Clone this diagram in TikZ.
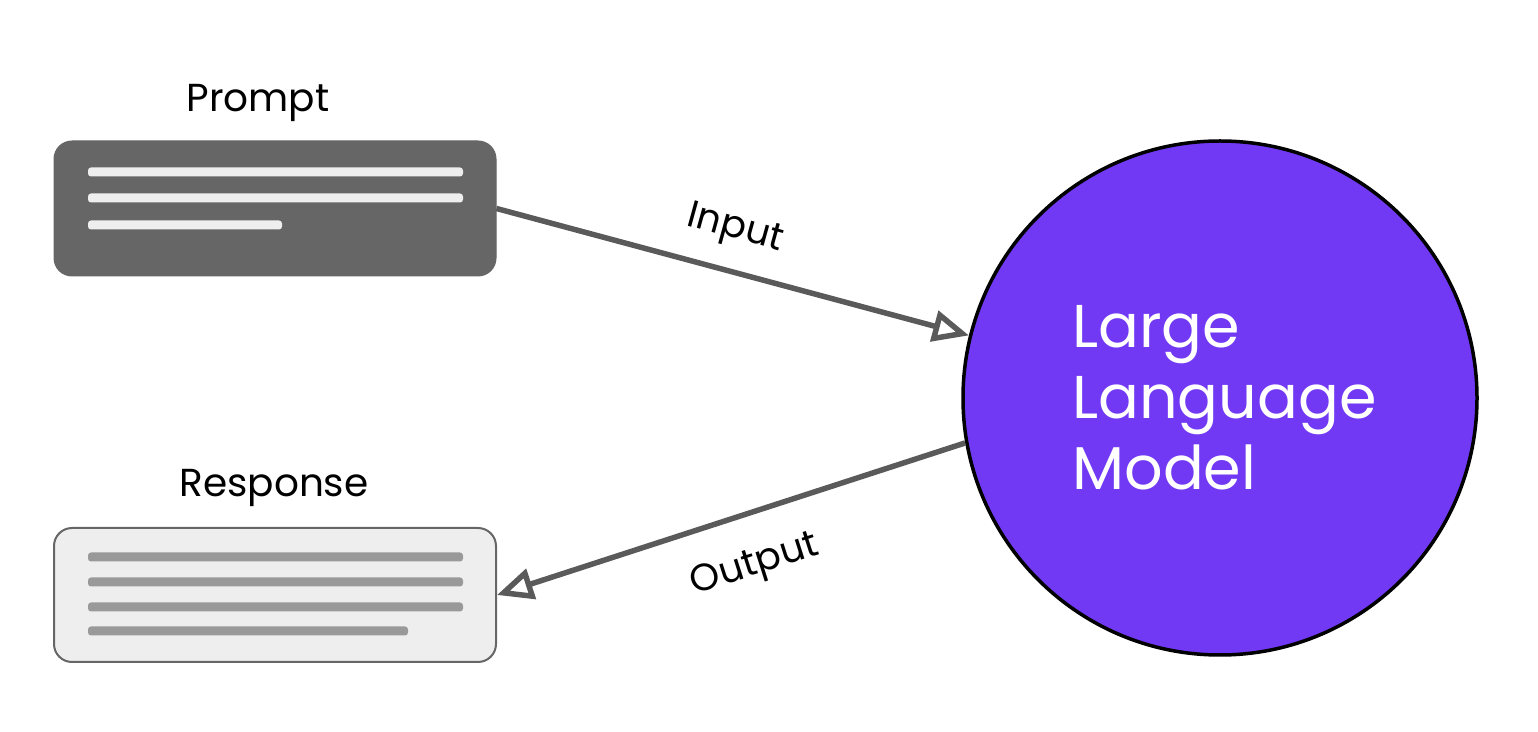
\documentclass[tikz,border=0pt]{standalone}
\usepackage{fontspec}
\setmainfont{Poppins}
\usetikzlibrary{arrows.meta}
\definecolor{boxdark}{HTML}{666666}
\definecolor{barlight}{HTML}{EEEEEE}
\definecolor{bargrey}{HTML}{999999}
\definecolor{arrowgrey}{HTML}{5A5A5A}
\definecolor{llmpurple}{HTML}{7239F5}
\tikzset{
  promptbox/.style={rectangle, rounded corners=9pt, fill=boxdark, draw=boxdark, line width=0.5pt, minimum width=221pt, minimum height=67.5pt, inner sep=0pt},
  responsebox/.style={rectangle, rounded corners=9pt, fill=barlight, draw=boxdark, line width=1pt, minimum width=221pt, minimum height=67pt, inner sep=0pt},
  lightbar/.style={fill=barlight, rounded corners=1.5pt},
  greybar/.style={fill=bargrey, rounded corners=1.5pt},
  llmnode/.style={circle, draw=black, line width=1.75pt, fill=llmpurple, minimum size=257pt, inner sep=0pt},
  flow/.style={draw=arrowgrey, line width=2.75pt, -{Triangle[open, length=18pt, width=15.5pt, line width=2.75pt]}},
  title/.style={font=\fontsize{19.5}{23}\selectfont, text=black, inner sep=0pt},
  flowlabel/.style={font=\fontsize{19}{23}\selectfont, text=black, inner sep=0pt},
}
\begin{document}
\begin{tikzpicture}[x=0.5pt, y=-0.5pt]
\useasboundingbox (0,0) rectangle (1538,732);
% boxes
\node[promptbox] (prompt) at (275,208.5) {};
\fill[lightbar] (88,167.5) rectangle (463,176.5);
\fill[lightbar] (88,193.5) rectangle (463,202.5);
\fill[lightbar] (88,220.5) rectangle (282,229.5);
\node[title, anchor=base] (promptlabel) at (258,112) {Prompt};

\node[responsebox] (response) at (275,595) {};
\fill[greybar] (88,552.5) rectangle (463,561.5);
\fill[greybar] (88,577.5) rectangle (463,586.5);
\fill[greybar] (88,602.5) rectangle (463,611.5);
\fill[greybar] (88,626.5) rectangle (408,635.5);
\node[title, anchor=base] (responselabel) at (274,497) {Response};

% LLM
\node[llmnode] (llm) at (1220,398) {};
\node[anchor=west, align=left, text=white, inner sep=0pt, font=\fontsize{30.2}{35.5}\selectfont] (llmtext) at (1072,398) {Large\\Language\\Model};

% connectors
\draw[flow] (prompt.east) -- (llm.166.5);
\draw[flow] (llm.190) -- (response.east);
\node[flowlabel, rotate=-15.4] (inputlabel) at (735,230) {Input};
\node[flowlabel, rotate=17.7] (outputlabel) at (755,566) {Output};
\end{tikzpicture}
\end{document}
